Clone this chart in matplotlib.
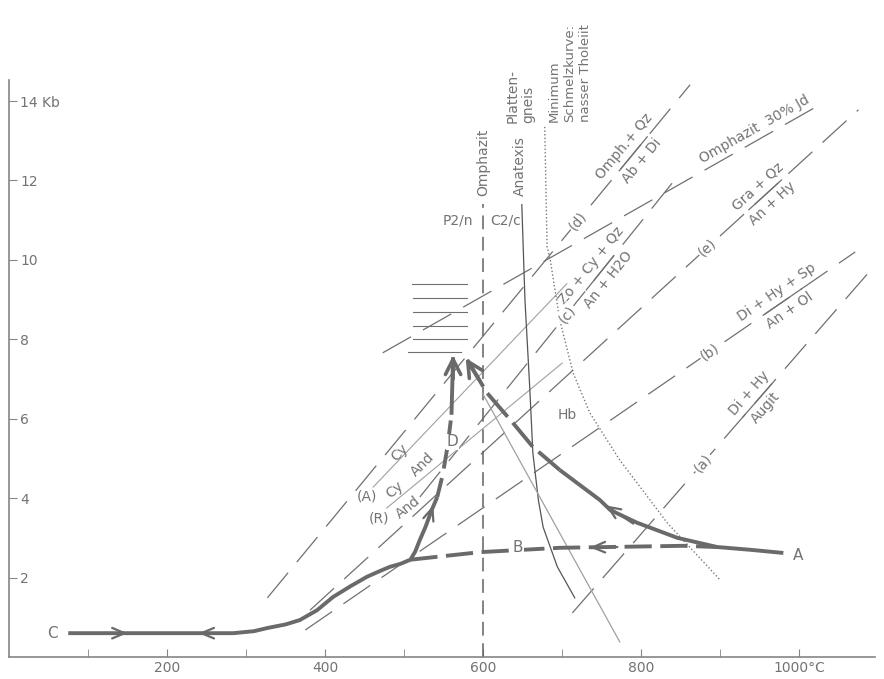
import numpy as np
import matplotlib.pyplot as plt

# ---- data (T in degC, P in kb) ----
# thick P-T path: C -> D (prograde), A -> top, A/B -> left
path_c_T = [75, 284, 310, 327, 350, 368, 390, 410, 432, 453, 470, 482, 496, 508, 514, 520, 527, 535, 542]
path_c_P = [0.60, 0.60, 0.65, 0.73, 0.82, 0.93, 1.18, 1.51, 1.78, 2.02, 2.17, 2.27, 2.35, 2.45, 2.65, 2.95, 3.27, 3.70, 4.03]
path_d_T = [542, 549, 555, 560, 562]
path_d_P = [4.03, 4.60, 5.30, 6.10, 7.55]
path_a_T = [580, 605, 638, 663, 697, 748, 761, 795, 846, 896, 938, 980]
path_a_P = [7.48, 6.65, 5.89, 5.29, 4.71, 3.95, 3.70, 3.38, 3.00, 2.77, 2.70, 2.62]
path_b_T = [508, 596, 697, 853, 896]
path_b_P = [2.45, 2.64, 2.75, 2.80, 2.77]

# Omphazit P2/n - C2/c transition
omph_T = [600, 600]
omph_P = [0, 11.4]

# Plattengneis anatexis
anat_T = [649, 653, 659, 663, 670, 676, 694, 716]
anat_P = [11.39, 8.99, 6.80, 5.14, 3.95, 3.27, 2.27, 1.49]

# minimum melting curve, wet tholeiite
melt_T = [678, 681, 685, 697, 714, 735, 773, 833, 900]
melt_P = [13.35, 10.33, 10.0, 8.49, 7.15, 6.15, 4.96, 3.38, 1.94]

# Hb line
hb_T = [599, 773]
hb_P = [6.65, 0.38]

# Al2SiO5 Cy/And lines (A) and (R)
al_a_T = [461, 706]
al_a_P = [4.28, 9.40]
al_r_T = [478, 700]
al_r_P = [3.75, 7.40]

# reaction lines (a)-(e) and Omphazit 30% Jd
rx_a_T = [713, 1094]
rx_a_P = [1.11, 9.82]
rx_b_T = [375, 1071]
rx_b_P = [0.68, 10.2]
rx_c_T = [520, 846]
rx_c_P = [4.03, 12.1]
rx_d_T = [327, 862]
rx_d_P = [1.49, 14.41]
rx_e_T = [381, 1075]
rx_e_P = [1.18, 13.78]
jd_T = [473, 1030]
jd_P = [7.66, 13.95]

# hatched box near the pressure peak
hatch_P = [9.40, 9.04, 8.69, 8.34, 8.00, 7.68]
hatch_T0 = [510, 511, 511, 511, 511, 505]
hatch_T1 = [580, 580, 580, 580, 580, 572]

grey = '#707070'
lgrey = '#a0a0a0'
tcol = '#737373'
fs = 10

fig = plt.figure(figsize=(8.84, 6.79), dpi=100)
ax = fig.add_axes([9/884, 22/679, 866/884, 577/679])
ax.set_xlim(0, 1096)
ax.set_ylim(0, 14.53)
for s in ['top', 'right']:
    ax.spines[s].set_visible(False)
for s in ['left', 'bottom']:
    ax.spines[s].set_color('#858585')
    ax.spines[s].set_linewidth(1.2)

ax.set_xticks([200, 400, 600, 800, 1000], labels=['200', '400', '600', '800', '1000°C'])
ax.set_xticks([100, 300, 500, 700, 900], minor=True)
ax.set_yticks([2, 4, 6, 8, 10, 12, 14], labels=['2', '4', '6', '8', '10', '12', '14 Kb'])
ax.tick_params(axis='both', which='both', direction='in', length=6, color='#858585',
               labelcolor=tcol, labelsize=10)
ax.tick_params(axis='x', pad=3)
ax.tick_params(axis='y', pad=-8)
for lab in ax.get_yticklabels():
    lab.set_horizontalalignment('left')


def angle(T, P):
    p = ax.transData.transform(np.column_stack([T, P]))
    return np.degrees(np.arctan2(p[1, 1] - p[0, 1], p[1, 0] - p[0, 0]))


def dashed(T, P, lw=0.9, col=grey, dash=(26, 11)):
    ln, = ax.plot(T, P, color=col, lw=lw)
    ln.set_dashes(dash)


def on_line(T, P, T0, txt, size=fs):
    P0 = np.interp(T0, T, P)
    ax.text(T0, P0, txt, rotation=angle(T, P), rotation_mode='anchor', ha='center', va='center',
            color=tcol, fontsize=size, zorder=5,
            bbox=dict(fc='white', ec='none', pad=1.0))


def frac(T, P, T0, top, bot, d=8.0, size=fs):
    P0 = np.interp(T0, T, P)
    a = angle(T, P)
    r = np.radians(a)
    dx, dy = -np.sin(r) * d, np.cos(r) * d
    # solid fraction bar
    half = 22 / 0.79 * np.cos(r)
    ax.plot([T0 - half, T0 + half], np.interp([T0 - half, T0 + half], T, P), color=grey, lw=0.9)
    for txt, s in [(top, 1), (bot, -1)]:
        ax.annotate(txt, (T0, P0), xytext=(s * dx, s * dy), textcoords='offset points',
                    rotation=a, rotation_mode='anchor', ha='center', va='center',
                    color=tcol, fontsize=size)


# reaction lines
for T, P in [(rx_a_T, rx_a_P), (rx_b_T, rx_b_P), (rx_c_T, rx_c_P),
             (rx_d_T, rx_d_P), (rx_e_T, rx_e_P), (jd_T, jd_P)]:
    dashed(T, P)

on_line(rx_a_T, rx_a_P, 878, '(a)')
frac(rx_a_T, rx_a_P, 947, 'Di + Hy', 'Augit')
on_line(rx_b_T, rx_b_P, 887, '(b)')
frac(rx_b_T, rx_b_P, 980, 'Di + Hy + Sp', 'An + Ol')
on_line(rx_c_T, rx_c_P, 706, '(c)')
frac(rx_c_T, rx_c_P, 748, 'Zo + Cy + Qz', 'An + H2O')
on_line(rx_d_T, rx_d_P, 720, '(d)')
frac(rx_d_T, rx_d_P, 790, 'Omph.+ Qz', 'Ab + Di')
on_line(rx_e_T, rx_e_P, 884, '(e)')
frac(rx_e_T, rx_e_P, 957, 'Gra + Qz', 'An + Hy')
a_jd = angle(jd_T, jd_P)
ax.annotate('Omphazit  30% Jd', (950, np.interp(950, jd_T, jd_P)), xytext=(-np.sin(np.radians(a_jd)) * 8,
            np.cos(np.radians(a_jd)) * 8), textcoords='offset points', rotation=a_jd,
            rotation_mode='anchor', ha='center', va='center', color=tcol, fontsize=fs)

# Al2SiO5 lines
ax.plot(al_a_T, al_a_P, color=lgrey, lw=0.8)
ax.plot(al_r_T, al_r_P, color=lgrey, lw=0.8)
ax.text(495, 5.14, 'Cy', rotation=45, color=tcol, fontsize=fs, ha='center', va='center')
ax.text(523, 4.84, 'And', rotation=45, color=tcol, fontsize=fs, ha='center', va='center')
ax.text(453, 4.04, '(A)', color=tcol, fontsize=fs, ha='center', va='center')
ax.text(488, 4.22, 'Cy', rotation=40, color=tcol, fontsize=fs, ha='center', va='center')
ax.text(468, 3.50, '(R)', color=tcol, fontsize=fs, ha='center', va='center')
ax.text(505, 3.76, 'And', rotation=38, color=tcol, fontsize=fs, ha='center', va='center')

# hatched box
for P, t0, t1 in zip(hatch_P, hatch_T0, hatch_T1):
    ax.plot([t0, t1], [P, P], color=grey, lw=0.8)

# Omphazit transition
dashed(omph_T, omph_P, lw=1.1, col='#606060', dash=(9, 5))
ax.text(600, 11.6, 'Omphazit', rotation=90, ha='center', va='bottom', color=tcol, fontsize=fs)
ax.text(568, 11.0, 'P2/n', ha='center', va='center', color=tcol, fontsize=fs)
ax.text(629, 11.0, 'C2/c', ha='center', va='center', color=tcol, fontsize=fs)

# anatexis and melting curves
ax.plot(anat_T, anat_P, color='#555555', lw=0.9)
ax.text(647, 11.6, 'Anatexis', rotation=90, ha='center', va='bottom', color=tcol, fontsize=fs)
ax.text(647, 13.45, 'Platten-\ngneis', rotation=90, ha='center', va='bottom', color=tcol,
        fontsize=fs, multialignment='left', linespacing=1.1)
ax.plot(melt_T, melt_P, color='#777777', lw=1.0, ls=(0, (1, 1.6)))
ax.text(710, 13.48, 'Minimum\nSchmelzkurve:\nnasser Tholeiit', rotation=90, ha='center',
        va='bottom', color=tcol, fontsize=9.5, multialignment='left', linespacing=1.25)
ax.plot(hb_T, hb_P, color=lgrey, lw=0.9)
ax.text(707, 6.1, 'Hb', color=tcol, fontsize=fs, ha='center', va='center')

# thick P-T path
thick = dict(color='#6a6a6a', lw=2.8, solid_capstyle='butt', zorder=4)
ax.plot(path_c_T, path_c_P, **thick)
ln, = ax.plot(path_d_T[:-1], path_d_P[:-1], **thick)
ln.set_dashes((5, 2.5))
ax.plot(path_d_T[-2:], path_d_P[-2:], **thick)
ln, = ax.plot(path_a_T[:5], path_a_P[:5], **thick)
ln.set_dashes((8, 2))
ax.plot(path_a_T[4:], path_a_P[4:], **thick)
ln, = ax.plot(path_b_T, path_b_P, **thick)
ln.set_dashes((7, 2.2))

ax.text(62, 0.60, 'C', ha='right', va='center', color=tcol, fontsize=11)
ax.text(992, 2.55, 'A', ha='left', va='center', color=tcol, fontsize=11)
ax.text(644, 2.75, 'B', ha='center', va='center', color=tcol, fontsize=11, zorder=6,
        bbox=dict(fc='white', ec='none', pad=0.5))
ax.text(561, 5.42, 'D', ha='center', va='center', color=tcol, fontsize=11, zorder=6,
        bbox=dict(fc='white', ec='none', pad=0.5))


# chevron arrows along the path
def chev(tip, tail, lw=1.6, hl=0.9, hw=0.38):
    ax.annotate('', xy=tip, xytext=tail, zorder=6,
                arrowprops=dict(arrowstyle='->,head_length=%g,head_width=%g' % (hl, hw),
                                color='#6a6a6a', lw=lw, shrinkA=0, shrinkB=0))


chev((150, 0.60), (120, 0.60))
chev((240, 0.60), (270, 0.60))
chev((537, 3.82), (529, 3.35))
chev((735, 2.76), (770, 2.77))
chev((755, 3.82), (790, 3.36))
chev((562, 7.6), (562, 7.0), lw=2.6, hl=1.1, hw=0.55)
chev((578, 7.53), (596, 6.95), lw=2.6, hl=1.1, hw=0.55)

fig.savefig('out.png', dpi=100, facecolor='white')
